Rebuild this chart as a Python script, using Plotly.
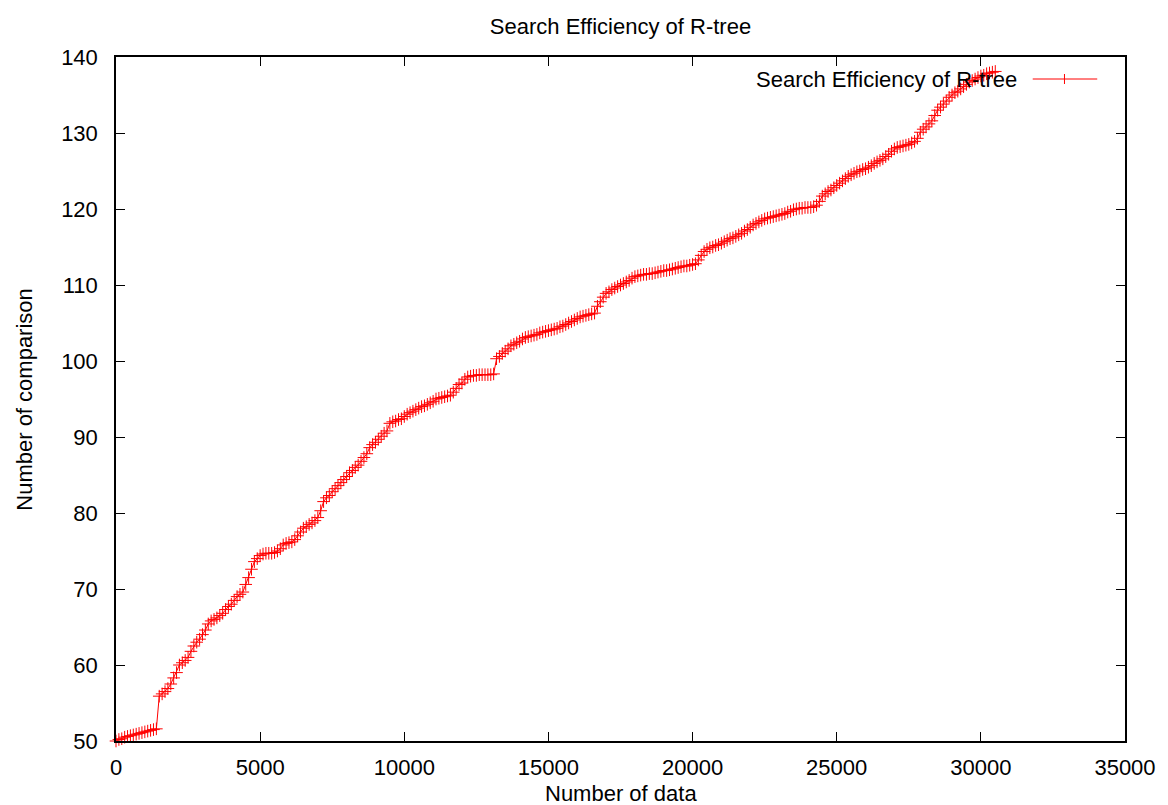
import plotly.graph_objects as go

# Average number of comparisons measured every 100 inserted records
data_start = 0
data_step = 100
comparisons = [
    50.0, 50.2, 50.3, 50.5, 50.6, 50.7, 50.8, 50.9, 51.0, 51.1,
    51.2, 51.3, 51.4, 51.5, 51.6, 55.9, 56.2, 56.5, 56.9, 57.5,
    58.3, 59.0, 60.0, 60.3, 60.6, 61.0, 61.8, 62.5, 63.0, 63.4,
    64.0, 64.6, 65.4, 65.8, 66.0, 66.2, 66.5, 66.8, 67.3, 67.7,
    68.0, 68.5, 69.0, 69.3, 69.6, 70.6, 71.5, 72.6, 73.6, 74.0,
    74.4, 74.6, 74.7, 74.7, 74.7, 74.8, 75.0, 75.3, 75.8, 76.0,
    76.1, 76.2, 76.5, 77.0, 77.5, 78.0, 78.2, 78.5, 78.7, 79.0,
    79.4, 80.3, 81.5, 82.0, 82.3, 82.8, 83.2, 83.6, 84.0, 84.4,
    84.8, 85.3, 85.6, 86.0, 86.3, 86.8, 87.3, 87.8, 88.6, 89.0,
    89.3, 89.7, 90.1, 90.5, 90.8, 91.8, 92.0, 92.1, 92.3, 92.4,
    92.7, 93.0, 93.2, 93.4, 93.6, 93.8, 94.0, 94.1, 94.3, 94.5,
    94.7, 95.0, 95.1, 95.2, 95.3, 95.4, 95.5, 95.9, 96.4, 96.9,
    97.1, 97.6, 97.9, 98.0, 98.1, 98.1, 98.2, 98.2, 98.2, 98.2,
    98.2, 98.3, 100.3, 100.6, 101.0, 101.3, 101.6, 102.0, 102.2, 102.4,
    102.6, 102.9, 103.1, 103.2, 103.3, 103.4, 103.5, 103.7, 103.8, 103.9,
    104.0, 104.1, 104.2, 104.3, 104.5, 104.6, 104.8, 105.0, 105.2, 105.4,
    105.6, 105.8, 105.9, 106.0, 106.1, 106.2, 106.3, 107.2, 107.8, 108.4,
    108.9, 109.1, 109.4, 109.6, 109.8, 110.0, 110.2, 110.4, 110.6, 110.9,
    111.1, 111.2, 111.3, 111.4, 111.4, 111.5, 111.5, 111.6, 111.7, 111.8,
    111.9, 111.9, 112.0, 112.1, 112.2, 112.3, 112.4, 112.5, 112.5, 112.6,
    112.7, 112.8, 113.3, 113.9, 114.4, 114.7, 114.9, 115.0, 115.2, 115.3,
    115.5, 115.7, 115.9, 116.1, 116.2, 116.4, 116.6, 116.8, 117.1, 117.3,
    117.6, 117.9, 118.1, 118.3, 118.5, 118.7, 118.8, 118.9, 119.0, 119.1,
    119.2, 119.3, 119.4, 119.6, 119.7, 119.9, 120.0, 120.1, 120.1, 120.2,
    120.2, 120.2, 120.3, 120.5, 121.0, 121.7, 122.0, 122.3, 122.5, 122.8,
    123.1, 123.4, 123.7, 124.0, 124.3, 124.5, 124.7, 124.9, 125.0, 125.2,
    125.3, 125.5, 125.7, 126.0, 126.2, 126.4, 126.6, 126.9, 127.2, 127.6,
    127.9, 128.1, 128.2, 128.3, 128.4, 128.5, 128.7, 128.9, 129.3, 130.1,
    130.5, 130.8, 131.2, 131.6, 132.3, 133.0, 133.4, 133.8, 134.2, 134.7,
    135.0, 135.3, 135.5, 135.8, 136.1, 136.4, 136.7, 136.9, 137.1, 137.3,
    137.5, 137.6, 137.8, 137.9, 138.0, 138.1,
]
num_data = [data_start + i * data_step for i in range(len(comparisons))]

x_ticks = [0, 5000, 10000, 15000, 20000, 25000, 30000, 35000]
y_ticks = [50, 60, 70, 80, 90, 100, 110, 120, 130, 140]

series_name = "Search Efficiency of R-tree"
title_text = "Search Efficiency of R-tree"
x_title = "Number of data"
y_title = "Number of comparison"

FONT = "Liberation Sans, Arial, Helvetica, sans-serif"
RED = "#ff0000"
W, H = 1168, 805
L, R, T, B = 116, 35, 57, 64
PW, PH = W - L - R, H - T - B


def px_x(px):
    return (px - L) / PW


def px_y(py):
    return (H - B - py) / PH


fig = go.Figure()
fig.add_trace(go.Scatter(
    x=num_data, y=comparisons, name=series_name,
    mode="lines+markers",
    line=dict(color=RED, width=1),
    marker=dict(symbol="cross-thin", size=9, line=dict(color=RED, width=1)),
    cliponaxis=False, showlegend=False,
))

axis_common = dict(
    showgrid=False, zeroline=False, showline=True, linecolor="black",
    linewidth=1.5, mirror="allticks", ticks="inside", ticklen=9,
    tickwidth=1, tickcolor="black",
    tickfont=dict(family=FONT, size=22, color="black"),
)

fig.update_xaxes(range=[0, 35000], tickvals=x_ticks,
                 ticktext=[str(v) for v in x_ticks],
                 ticklabelstandoff=6, **axis_common)
fig.update_yaxes(range=[50, 140], tickvals=y_ticks,
                 ticktext=[str(v) for v in y_ticks],
                 ticklabelstandoff=12, **axis_common)

# Key in the upper right corner: label followed by the line/point sample
legend_y = px_y(79)
annotations = [
    dict(text=x_title, x=0.5, y=px_y(793), xref="paper", yref="paper",
         xanchor="center", yanchor="middle", showarrow=False,
         font=dict(family=FONT, size=22, color="black")),
    dict(text=y_title, x=px_x(23), y=0.5, xref="paper", yref="paper",
         xanchor="center", yanchor="middle", textangle=-90, showarrow=False,
         font=dict(family=FONT, size=22, color="black")),
    dict(text=series_name, x=px_x(1026), y=legend_y, xref="paper",
         yref="paper", xanchor="right", yanchor="middle", showarrow=False,
         font=dict(family=FONT, size=22, color="black")),
]
shapes = [
    dict(type="line", xref="paper", yref="paper",
         x0=px_x(1040), x1=px_x(1105), y0=legend_y, y1=legend_y,
         line=dict(color=RED, width=1)),
    dict(type="line", xref="paper", yref="paper",
         x0=px_x(1072), x1=px_x(1072), y0=px_y(74), y1=px_y(84),
         line=dict(color=RED, width=1)),
]

fig.update_layout(
    width=W, height=H,
    margin=dict(l=L, r=R, t=T, b=B),
    paper_bgcolor="white", plot_bgcolor="white",
    title=dict(text=title_text, x=0.5, xref="paper", y=1 - 26 / H,
               yref="container", xanchor="center", yanchor="middle",
               font=dict(family=FONT, size=22, color="black")),
    annotations=annotations, shapes=shapes,
    showlegend=False,
)

fig.write_html("out.html")
